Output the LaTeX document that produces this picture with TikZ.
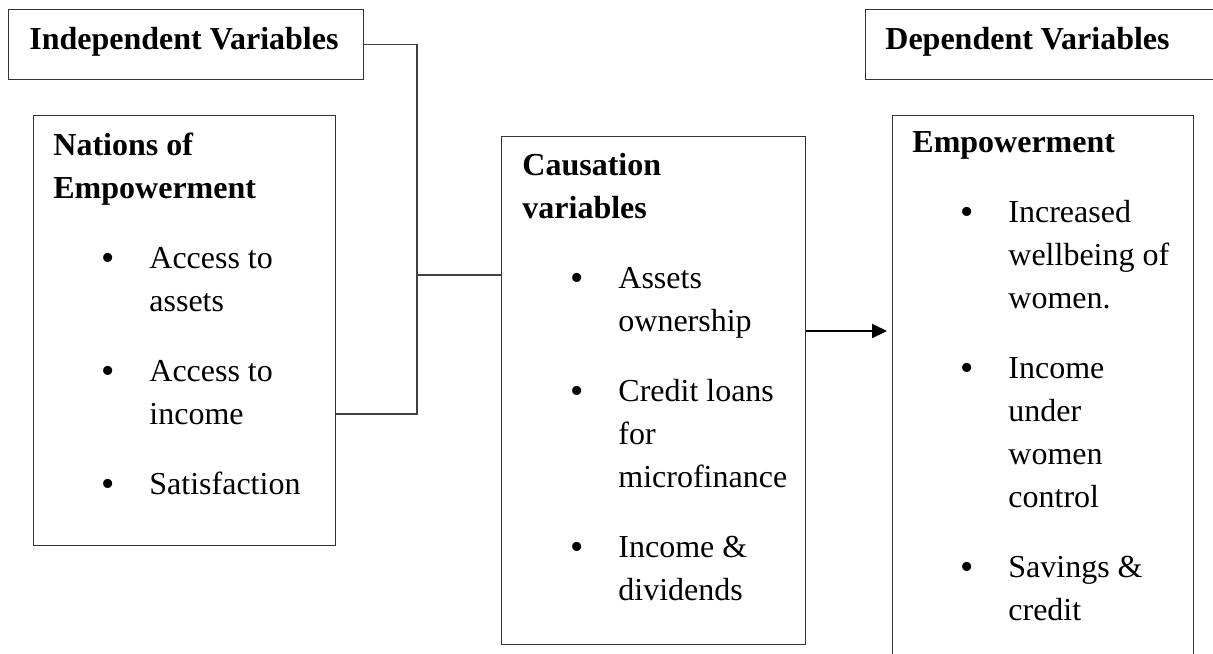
\documentclass[tikz,border=0pt]{standalone}
\usepackage{fontspec}
\setmainfont{Liberation Serif}
\usetikzlibrary{arrows.meta}
\newcommand{\bul}{\hspace*{24pt}\makebox[24pt][l]{\raisebox{-1.3pt}{\fontsize{19pt}{19pt}\selectfont\textbullet}}}
\newcommand{\ind}{\hspace*{48pt}}

\begin{document}
\begin{tikzpicture}[x=0.5pt,y=-0.5pt,
    varbox/.style={draw=black!80, line width=0.6pt, inner sep=0pt, anchor=north west},
    vartext/.style={inner sep=0pt, anchor=base west, align=left, font=\fontsize{16pt}{21.5pt}\selectfont},
    link/.style={draw=black!75, line width=0.6pt}]
    \clip (0,0) rectangle (1213,653);
    % headings
    \node[varbox, minimum width=177.5pt, minimum height=35pt] (indep) at (8,9) {};
    \node[vartext] (indeptext) at (29,49) {\textbf{Independent Variables}};
    \node[varbox, minimum width=180pt, minimum height=35pt] (dep) at (865,9) {};
    \node[vartext] (deptext) at (885,49) {\textbf{Dependent Variables}};
    % boxes (text placed by its last line)
    \node[varbox, minimum width=151pt, minimum height=215pt] (nations) at (33,115) {};
    \node[vartext] (nationstext) at (53,494) {\textbf{Nations of}\\ \textbf{Empowerment}\\[13.5pt]
        \bul Access to\\ \ind assets\\[13.5pt] \bul Access to\\ \ind income\\[13.5pt] \bul Satisfaction};
    \node[varbox, minimum width=152pt, minimum height=254pt] (causation) at (501,136) {};
    \node[vartext] (causationtext) at (522,600) {\textbf{Causation}\\ \textbf{variables}\\[13.5pt]
        \bul Assets\\ \ind ownership\\[13.5pt] \bul Credit loans\\ \ind for\\ \ind microfinance\\[13.5pt]
        \bul Income \&\\ \ind dividends};
    \node[varbox, minimum width=150.5pt, minimum height=280pt] (emp) at (892,115) {};
    \node[vartext] (emptext) at (912,620) {\textbf{Empowerment}\\[13.5pt]
        \bul Increased\\ \ind wellbeing of\\ \ind women.\\[13.5pt] \bul Income\\ \ind under\\ \ind women\\ \ind control\\[13.5pt]
        \bul Savings \&\\ \ind credit};
    % links
    \coordinate (bend) at (417,414); \coordinate (tee) at (417,275); \coordinate (arrowy) at (0,331);
    \draw[link] (indep.east) -| (bend) -- (bend -| nations.east);
    \draw[link] (tee) -- (tee -| causation.west);
    \draw[line width=1pt, shorten >=2.5pt, -{Triangle[length=7.5pt,width=7pt]}] (causation.east |- arrowy) -- (emp.west |- arrowy);
\end{tikzpicture}
\end{document}
